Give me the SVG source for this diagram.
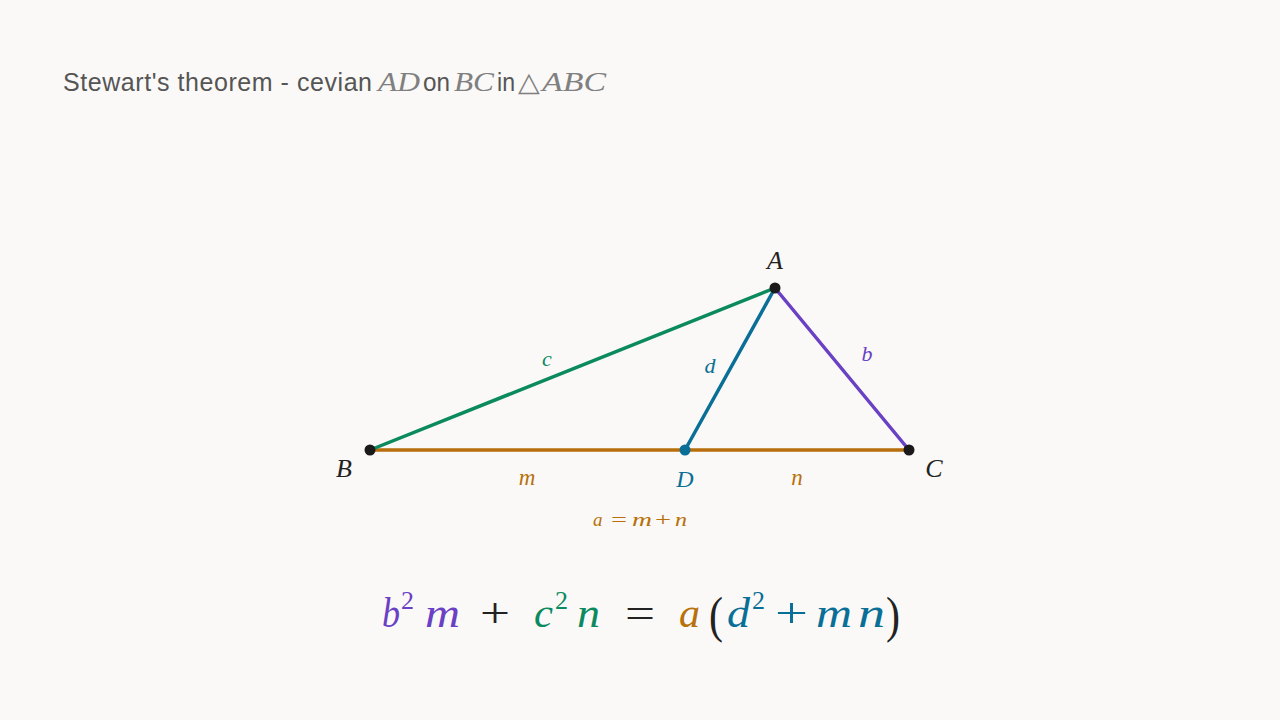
<svg xmlns="http://www.w3.org/2000/svg" width="1280" height="720" viewBox="0 0 1280 720">
<style>
.bg{fill:#faf9f7}
.title{font-family:"Liberation Sans",Arial,sans-serif;font-size:25px;fill:#555555}
.tm{font-family:"Liberation Serif","Times New Roman",serif;font-style:italic;font-size:27px;fill:#808080}
.math{font-family:"Liberation Serif","Times New Roman",serif;font-style:italic}
.up{font-family:"Liberation Serif","Times New Roman",serif;font-style:normal}
.seg{stroke-width:3.5;stroke-linecap:round;fill:none}
.green{fill:#0b8a5f}
.purple{fill:#6a40c4}
.teal{fill:#0a6f96}
.orange{fill:#b7700a}
.black{fill:#222222}
</style>
<rect class="bg" x="0" y="0" width="1280" height="720"/>
<g id="title">
<text class="title" x="63" y="91" textLength="309" lengthAdjust="spacing">Stewart's theorem - cevian</text>
<text class="tm" x="378" y="91" textLength="42" lengthAdjust="spacingAndGlyphs">AD</text>
<text class="title" x="423" y="91" textLength="27" lengthAdjust="spacingAndGlyphs">on</text>
<text class="tm" x="454" y="91" textLength="40" lengthAdjust="spacingAndGlyphs">BC</text>
<text class="title" x="497" y="91" textLength="18" lengthAdjust="spacingAndGlyphs">in</text>
<text x="518" y="91" class="up" style="font-size:27px;fill:#808080" textLength="22" lengthAdjust="spacingAndGlyphs">△</text>
<text class="tm" x="542" y="91" textLength="64" lengthAdjust="spacingAndGlyphs">ABC</text>
</g>
<g id="connectors">
<line id="seg-BC" class="seg" x1="370" y1="450" x2="909" y2="450" stroke="#b86e0a"/>
<line id="seg-AB" class="seg" x1="370" y1="450" x2="775" y2="288" stroke="#0b8a5f"/>
<line id="seg-AC" class="seg" x1="775" y1="288" x2="909" y2="450" stroke="#6a40c4"/>
<line id="seg-AD" class="seg" x1="775" y1="288" x2="685" y2="450" stroke="#0a6f96"/>
</g>
<g id="node-A"><circle cx="775" cy="288" r="5.5" fill="#1a1a1a"/><text class="math black" x="775" y="269" font-size="26" text-anchor="middle">A</text></g>
<g id="node-B"><circle cx="370" cy="450" r="5.5" fill="#1a1a1a"/><text class="math black" x="344" y="477" font-size="26" text-anchor="middle">B</text></g>
<g id="node-C"><circle cx="909" cy="450" r="5.5" fill="#1a1a1a"/><text class="math black" x="934" y="477" font-size="26" text-anchor="middle">C</text></g>
<g id="node-D"><circle cx="685" cy="450" r="5.5" fill="#0a6f96"/><text class="math teal" x="685" y="487" font-size="24" text-anchor="middle">D</text></g>
<g id="labels">
<text class="math green" x="547" y="366" font-size="22" text-anchor="middle">c</text>
<text class="math teal" x="710" y="373" font-size="22" text-anchor="middle">d</text>
<text class="math purple" x="867" y="361" font-size="22" text-anchor="middle">b</text>
<text class="math orange" x="527" y="485" font-size="23" text-anchor="middle">m</text>
<text class="math orange" x="797" y="485" font-size="23" text-anchor="middle">n</text>
<text class="orange" y="526" font-size="19" style="font-family:'Liberation Serif','Times New Roman',serif"><tspan x="593" font-style="italic">a</tspan><tspan x="611" textLength="16" lengthAdjust="spacingAndGlyphs">=</tspan><tspan x="632" font-style="italic" textLength="20" lengthAdjust="spacingAndGlyphs">m</tspan><tspan x="655" textLength="16" lengthAdjust="spacingAndGlyphs">+</tspan><tspan x="675" font-style="italic" textLength="12" lengthAdjust="spacingAndGlyphs">n</tspan></text>
</g>
<g id="equation" font-size="42">
<text class="math purple" x="382" y="627" textLength="18" lengthAdjust="spacingAndGlyphs">b</text>
<text class="up purple" x="401" y="609" font-size="26">2</text>
<text class="math purple" x="425" y="627" textLength="35" lengthAdjust="spacingAndGlyphs">m</text>
<text class="up black" x="480" y="627" textLength="30" lengthAdjust="spacingAndGlyphs">+</text>
<text class="math green" x="534" y="627" textLength="19" lengthAdjust="spacingAndGlyphs">c</text>
<text class="up green" x="555" y="609" font-size="26">2</text>
<text class="math green" x="577" y="627" textLength="23" lengthAdjust="spacingAndGlyphs">n</text>
<text class="up black" x="625" y="627" textLength="30" lengthAdjust="spacingAndGlyphs">=</text>
<text class="math orange" x="679" y="627" textLength="21" lengthAdjust="spacingAndGlyphs">a</text>
<text class="up black" x="709" y="632" font-size="50" textLength="14" lengthAdjust="spacingAndGlyphs">(</text>
<text class="math teal" x="727" y="627" textLength="23" lengthAdjust="spacingAndGlyphs">d</text>
<text class="up teal" x="752" y="609" font-size="26">2</text>
<text class="up teal" x="775" y="627" textLength="33" lengthAdjust="spacingAndGlyphs">+</text>
<text class="math teal" x="816" y="627" textLength="36" lengthAdjust="spacingAndGlyphs">m</text>
<text class="math teal" x="858" y="627" textLength="27" lengthAdjust="spacingAndGlyphs">n</text>
<text class="up black" x="886" y="632" font-size="50" textLength="14" lengthAdjust="spacingAndGlyphs">)</text>
</g>
</svg>
